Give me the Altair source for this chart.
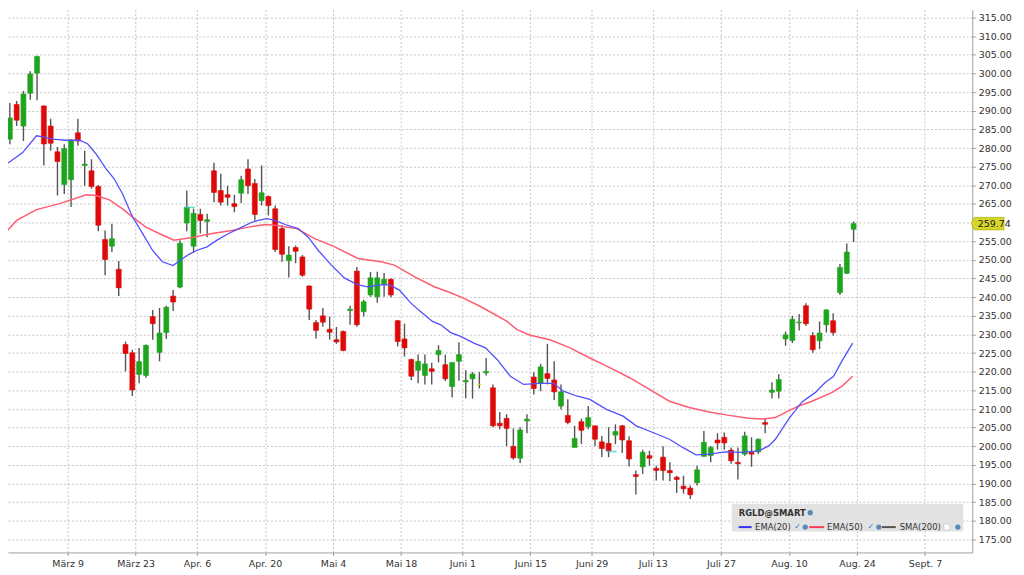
import altair as alt
import pandas as pd

# ---- candle data (trading-day index, OHLC) ----
idx = list(range(126))
opens = [287.3, 282.4, 291.7, 285.9, 294.7, 300.1, 291.3, 285.9, 279.0, 270.2,
         271.5, 284.1, 275.3, 273.9, 269.7, 255.5, 253.7, 247.5, 227.3, 225.1,
         219.3, 219.0, 234.8, 225.2, 230.5, 240.3, 242.7, 259.9, 253.7, 262.2,
         260.3, 273.9, 268.6, 267.5, 265.1, 267.9, 274.4, 270.5, 265.9, 267.0,
         263.7, 258.4, 249.8, 253.3, 250.8, 243.0, 233.2, 235.0, 231.4, 228.6,
         230.8, 236.4, 247.0, 236.1, 240.6, 240.1, 243.5, 244.8, 233.7, 228.8,
         223.3, 220.4, 219.0, 220.8, 224.6, 221.9, 216.0, 222.8, 217.3, 218.1,
         216.6, 219.7, 215.7, 206.2, 207.5, 200.0, 196.8, 206.8, 218.6, 216.9,
         219.5, 217.8, 210.8, 208.3, 199.7, 206.6, 205.3, 205.5, 201.2, 200.8,
         203.0, 205.5, 201.5, 192.4, 194.5, 197.5, 194.1, 197.1, 193.5, 191.7,
         189.3, 188.8, 190.2, 197.3, 197.5, 201.7, 202.4, 199.0, 195.7, 197.9,
         198.4, 198.5, 206.4, 214.5, 214.8, 228.8, 228.4, 233.1, 237.7, 229.7,
         228.3, 232.6, 233.7, 241.2, 246.4, 258.2]
highs = [294.8, 292.1, 292.6, 295.3, 300.6, 304.8, 291.5, 287.9, 280.3, 281.0,
         282.4, 287.9, 279.3, 277.0, 270.1, 257.9, 259.7, 249.7, 228.1, 225.9,
         226.4, 227.3, 236.6, 237.1, 237.7, 241.9, 255.3, 268.6, 263.7, 263.7,
         262.4, 276.1, 273.1, 269.9, 267.5, 272.6, 277.0, 271.7, 275.3, 267.3,
         264.6, 259.3, 253.7, 253.9, 251.3, 243.2, 233.9, 237.1, 234.8, 232.0,
         231.1, 237.7, 248.1, 239.3, 246.8, 246.8, 246.5, 245.0, 233.9, 232.9,
         223.5, 224.6, 224.6, 222.4, 227.1, 224.6, 222.5, 227.9, 220.4, 219.9,
         219.9, 223.7, 216.6, 209.2, 208.6, 204.8, 205.1, 208.6, 219.9, 222.1,
         227.5, 222.8, 216.6, 212.6, 205.5, 207.4, 210.8, 205.5, 202.8, 205.1,
         205.9, 205.7, 202.7, 193.5, 199.1, 198.8, 194.8, 200.0, 195.7, 192.1,
         192.1, 189.5, 194.8, 204.1, 200.1, 203.5, 203.7, 199.7, 199.7, 203.9,
         202.4, 202.1, 207.5, 217.2, 219.3, 230.8, 235.0, 235.5, 238.4, 230.6,
         233.5, 236.8, 235.7, 248.9, 254.4, 260.3]
lows = [283.3, 281.0, 285.9, 281.9, 293.0, 292.8, 275.3, 279.3, 267.3, 267.7,
        264.2, 280.6, 269.9, 269.1, 257.7, 245.9, 252.1, 240.3, 220.1, 213.5,
        216.9, 218.4, 228.6, 222.8, 228.8, 236.3, 242.4, 257.7, 252.0, 257.1,
        256.1, 265.5, 264.6, 264.6, 262.8, 265.3, 267.7, 260.5, 264.6, 261.9,
        252.1, 249.5, 245.3, 249.1, 245.5, 233.9, 228.9, 232.1, 228.6, 227.5,
        225.5, 232.6, 232.1, 234.8, 240.1, 238.5, 240.1, 240.0, 226.8, 224.1,
        217.7, 216.9, 216.6, 216.6, 222.5, 217.5, 213.1, 217.6, 212.9, 212.8,
        215.5, 219.0, 205.1, 204.6, 200.0, 196.4, 195.5, 203.5, 213.9, 214.8,
        216.6, 212.4, 209.9, 205.9, 199.7, 200.6, 204.6, 200.1, 197.1, 197.1,
        200.6, 198.2, 194.6, 187.1, 192.6, 194.8, 190.8, 190.8, 190.6, 187.5,
        187.3, 185.9, 189.5, 197.3, 195.7, 199.1, 199.1, 195.3, 191.1, 197.5,
        194.5, 197.9, 203.5, 212.8, 212.8, 227.0, 227.7, 231.1, 232.3, 225.1,
        226.1, 230.5, 229.7, 240.6, 246.2, 254.8]
closes = [285.3, 288.1, 287.5, 294.5, 299.9, 304.6, 281.1, 281.3, 276.4, 279.9,
          282.1, 281.9, 275.7, 269.7, 259.3, 250.1, 255.7, 242.5, 224.9, 215.1,
          222.7, 227.1, 232.9, 230.4, 237.3, 238.7, 254.5, 264.1, 262.5, 260.6,
          260.8, 268.1, 265.5, 266.8, 264.3, 271.5, 269.9, 262.2, 268.0, 264.6,
          252.8, 251.5, 251.3, 252.3, 245.9, 236.8, 231.1, 233.3, 230.6, 228.0,
          225.7, 236.8, 232.6, 238.8, 245.2, 245.2, 244.8, 240.6, 228.1, 226.4,
          218.8, 222.8, 222.1, 220.1, 225.7, 218.1, 222.5, 224.6, 217.7, 219.4,
          216.6, 220.1, 205.5, 205.5, 204.8, 196.9, 204.4, 207.3, 215.5, 221.3,
          218.2, 214.6, 214.6, 206.4, 202.1, 204.3, 207.7, 201.9, 199.4, 198.8,
          204.0, 201.7, 196.6, 191.9, 198.4, 196.8, 193.5, 193.5, 192.9, 191.1,
          188.6, 187.0, 193.7, 201.1, 199.7, 200.9, 200.9, 196.1, 195.3, 202.8,
          197.9, 201.9, 205.9, 215.1, 217.9, 229.9, 234.1, 233.3, 232.9, 225.9,
          230.4, 236.6, 230.5, 248.0, 252.1, 259.74]

# ---- moving averages (index, value) ----
ema20_idx = [-0.44, 2.88, 4.92, 5.65, 7.35, 9.31, 11.25, 12.46, 13.69, 15.15,
             16.36, 17.57, 19.04, 20.5, 21.96, 23.42, 24.98, 26.1, 27.32, 28.53,
             29.99, 31.45, 33.16, 35.1, 36.57, 37.55, 38.76, 39.99, 41.45, 43.39,
             44.85, 46.31, 48.25, 50.21, 52.16, 53.62, 55.56, 56.79, 58.25, 59.94,
             61.4, 63.11, 64.33, 65.79, 67.25, 69.2, 70.9, 72.6, 74.55, 76.51,
             78.93, 80.89, 82.35, 84.3, 86.24, 88.68, 91.12, 93.06, 95.5, 97.93,
             99.88, 101.83, 103.77, 106.21, 108.65, 111.07, 112.53, 113.51, 115.45, 117.41,
             119.36, 120.82, 122.03, 123.26, 124.86]
ema20_val = [274.5, 278.8, 283.3, 283.1, 282.4, 282.1, 282.1, 281.1, 278.4, 274.4,
             271.7, 267.7, 261.5, 257.1, 252.6, 249.5, 248.5, 250.0, 251.5, 252.6,
             253.5, 255.3, 257.1, 258.8, 260.1, 260.6, 261.1, 260.6, 259.5, 258.4,
             256.1, 252.6, 248.6, 245.1, 243.3, 242.8, 243.3, 243.3, 241.9, 238.4,
             236.1, 233.5, 232.6, 230.5, 229.5, 227.7, 226.4, 223.3, 218.8, 216.6,
             216.9, 216.9, 214.8, 213.5, 212.6, 209.9, 208.1, 205.5, 203.7, 201.9,
             199.7, 197.7, 197.9, 198.5, 198.4, 198.8, 200.1, 201.9, 207.3, 211.9,
             214.4, 217.1, 218.7, 222.8, 227.7]
ema50_idx = [-0.44, 2.0, 4.92, 8.33, 12.23, 13.69, 15.63, 17.57, 19.04, 20.99,
             22.94, 25.13, 27.8, 30.72, 33.64, 36.08, 38.52, 39.99, 43.14, 45.83,
             48.75, 52.16, 55.56, 57.52, 60.44, 63.36, 65.79, 67.74, 70.17, 74.07,
             75.53, 77.47, 80.39, 83.32, 86.24, 89.16, 92.08, 95.0, 97.93, 100.85,
             103.77, 106.69, 109.61, 111.57, 113.51, 114.98, 116.92, 118.87, 121.79, 123.26,
             124.86]
ema50_val = [255.7, 260.6, 263.5, 265.1, 267.5, 267.3, 266.1, 263.7, 261.5, 258.8,
             257.1, 255.3, 256.0, 257.1, 257.9, 258.8, 259.5, 259.3, 258.4, 255.7,
             253.5, 250.4, 249.5, 248.6, 245.5, 242.8, 241.2, 239.7, 237.5, 233.5,
             231.3, 229.8, 228.6, 226.4, 223.7, 221.1, 218.4, 215.3, 212.1, 210.4,
             209.2, 208.3, 207.5, 207.3, 207.7, 209.1, 210.8, 212.1, 214.4, 216.1,
             218.8]

# execution markers (cyan)
mark_idx = [27, 89]
mark_val = [264.1, 198.6]

# ---- axes ----
tick_pos = [9.5, 19.5, 28.5, 38.5, 48.5, 58.5, 67.5, 77.5, 86.5, 95.5,
            105.5, 115.5, 125.5, 135.5]
tick_labels = ["März 9", "März 23", "Apr. 6", "Apr. 20", "Mai 4", "Mai 18",
               "Juni 1", "Juni 15", "Juni 29", "Juli 13", "Juli 27", "Aug. 10",
               "Aug. 24", "Sept. 7"]
y_ticks = list(range(175, 316, 5))
hidden_y_label = 260  # covered by the last-price tag

FONT = "DejaVu Sans"
GREEN = "#1ea51e"
RED = "#de0a0a"
YELLOW = "#e6e600"

df = pd.DataFrame({"i": idx, "open": opens, "high": highs, "low": lows, "close": closes})
df["dir"] = ["up" if c > o else ("down" if c < o else "flat") for o, c in zip(opens, closes)]

ema20 = pd.DataFrame({"i": ema20_idx, "v": ema20_val})
ema50 = pd.DataFrame({"i": ema50_idx, "v": ema50_val})
marks = pd.DataFrame({"i": mark_idx, "v": mark_val})
last = pd.DataFrame({"v": [closes[-1]], "t": [f"{closes[-1]:.2f}"]})

x_label_expr = "".join(f"datum.value == {p} ? '{l}' : " for p, l in zip(tick_pos, tick_labels)) + "''"
y_label_expr = f"datum.value == {hidden_y_label} ? '' : format(datum.value, '.2f')"

xs = alt.Scale(domain=[0.73, 142.44], nice=False, zero=False, padding=0)
ys = alt.Scale(domain=[171.53, 317.13], nice=False, zero=False, padding=0)

x_axis = alt.Axis(values=tick_pos, labelExpr=x_label_expr, grid=True, gridColor="#c4c4c4",
                  gridDash=[2, 2], gridWidth=1, tickSize=3, tickColor="#999999",
                  domainColor="#a0a0a0", labelColor="#333333", labelFont=FONT,
                  labelFontSize=9.5, labelPadding=3, title=None, labelFlush=False)
y_axis = alt.Axis(orient="right", values=y_ticks, labelExpr=y_label_expr, grid=True,
                  gridColor="#c4c4c4", gridDash=[2, 2], gridWidth=1, tickSize=3,
                  tickColor="#999999", domainColor="#a0a0a0", labelColor="#333333",
                  labelFont=FONT, labelFontSize=9.5, labelPadding=3, title=None)


def X(field):
    return alt.X(field, type="quantitative", scale=xs, axis=x_axis)


def Y(field):
    return alt.Y(field, type="quantitative", scale=ys, axis=y_axis)


wicks = alt.Chart(df).mark_rule(color="#555555", strokeWidth=1.4, clip=True).encode(
    x=X("i"), y=Y("low"), y2="high")

bodies = alt.Chart(df).mark_bar(size=5, clip=True, strokeWidth=0.6).encode(
    x=X("i"), y=Y("open"), y2="close",
    color=alt.Color("dir:N", scale=alt.Scale(domain=["up", "down", "flat"],
                                             range=[GREEN, RED, YELLOW]), legend=None),
    stroke=alt.Stroke("dir:N", scale=alt.Scale(domain=["up", "down", "flat"],
                                               range=[GREEN, RED, YELLOW]), legend=None))

line20 = alt.Chart(ema20).mark_line(color="#5050ff", strokeWidth=1.3, clip=True).encode(
    x=X("i"), y=Y("v"))
line50 = alt.Chart(ema50).mark_line(color="#ff5c72", strokeWidth=1.5, clip=True).encode(
    x=X("i"), y=Y("v"))

cyan = alt.Chart(marks).mark_tick(orient="horizontal", size=10, thickness=1.6,
                                  color="#33cccc", xOffset=3, clip=True).encode(
    x=X("i"), y=Y("v"))

# price tag on right axis
tag = alt.Chart(last).mark_point(
    shape="M-1.2,0L-1,-0.42L1,-0.42L1,0.42L-1,0.42Z", size=900, filled=True,
    fill="#d6d62a", stroke="#a8a800", strokeWidth=0.6, opacity=1).encode(
    x=alt.value(987), y=Y("v"))
tag_text = alt.Chart(last).mark_text(align="left", baseline="middle", font=FONT,
                                     fontSize=9.5, color="#222222").encode(
    x=alt.value(975.5), y=Y("v"), text="t:N")

# ---- legend box (pixel positioned) ----
dummy = pd.DataFrame({"a": [0]})


def rect(x1, x2, y1, y2, **kw):
    return alt.Chart(dummy).mark_rect(**kw).encode(
        x=alt.value(x1), x2=alt.value(x2), y=alt.value(y1), y2=alt.value(y2))


def text(s, x, y, **kw):
    return alt.Chart(dummy).mark_text(align="left", baseline="middle", font=FONT, **kw).encode(
        x=alt.value(x), y=alt.value(y), text=alt.value(s))


def seg(x1, x2, y, color, w=2):
    return alt.Chart(dummy).mark_rule(color=color, strokeWidth=w).encode(
        x=alt.value(x1), x2=alt.value(x2), y=alt.value(y))


def globe(x, y):
    return alt.Chart(dummy).mark_point(filled=True, color="#5a88b8", size=28, opacity=1).encode(
        x=alt.value(x), y=alt.value(y))


row1, row2 = 506, 520.5
legend = [
    rect(728, 961, 497, 525, color="#e2e2e2", cornerRadius=2),
    text("RGLD@SMART", 735, row1, fontSize=8.5, fontWeight="bold", color="#333333"),
    globe(807, row1),
    seg(735, 748, row2, "#3333ee"),
    text("EMA(20)", 751.5, row2, fontSize=8.5, color="#333333"),
    text("✓", 791, row2, fontSize=8, color="#3a6fd0"),
    globe(802, row2),
    seg(806, 821, row2, "#ff3f55"),
    text("EMA(50)", 824, row2, fontSize=8.5, color="#333333"),
    text("✓", 864.5, row2, fontSize=8, color="#3a6fd0"),
    globe(876, row2),
    seg(879, 893, row2, "#555555"),
    text("SMA(200)", 897, row2, fontSize=8.5, color="#333333"),
    rect(941.5, 947.5, 517.5, 523.5, color="#ffffff", stroke="#bbbbbb", strokeWidth=0.6),
    globe(955.5, row2),
]

chart = alt.layer(wicks, bodies, line50, line20, cyan, tag, tag_text, *legend).properties(
    width=970, height=546,
    autosize=alt.AutoSizeParams(type="none"),
    padding={"left": 0, "top": 0, "right": 44, "bottom": 20},
    background="#ffffff",
).configure_view(strokeWidth=0)

chart.save("out.html", embed_options={"renderer": "svg", "actions": False})
